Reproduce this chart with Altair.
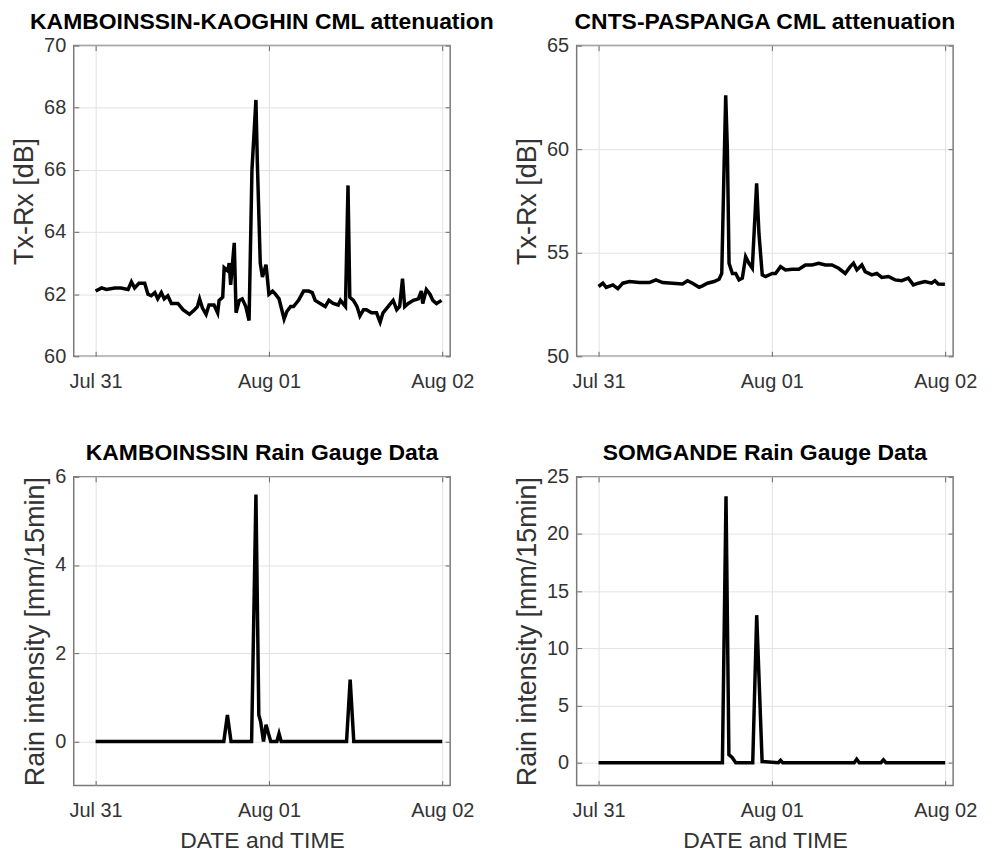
import altair as alt
import pandas as pd

# time axis: hours after Jul 31 00:00
x_tick_hours = [0, 24, 48]
x_tick_labels = ["Jul 31", "Aug 01", "Aug 02"]

# KAMBOINSSIN-KAOGHIN CML attenuation (dB)
kk_hours = [0, 0.83, 1.5, 2.66, 3.5, 4.5, 4.96, 5.4, 6.0, 6.8, 7.25, 7.7, 8.2, 8.6, 9.1, 9.5,
            10.0, 10.5, 11.4, 12.1, 13.0, 13.7, 14.1, 14.4, 14.8, 15.3, 15.7, 16.4, 16.9, 17.1,
            17.6, 17.8, 18.3, 18.5, 18.7, 19.2, 19.45, 19.9, 20.3, 20.8, 21.25, 21.65, 22.2,
            22.4, 22.8, 23.1, 23.6, 24.0, 24.5, 24.9, 25.4, 26.1, 26.5, 27.0, 27.4, 28.1, 28.8,
            29.5, 30.0, 30.4, 31.1, 31.8, 32.3, 32.9, 33.6, 33.9, 34.6, 34.95, 35.2, 35.7, 36.2,
            36.6, 37.1, 37.5, 38.2, 38.9, 39.4, 39.8, 40.5, 41.2, 41.7, 42.1, 42.5, 42.8, 43.3,
            44.0, 44.7, 45.1, 45.3, 45.8, 46.3, 46.7, 47.2, 47.9]
kk_db = [62.1, 62.2, 62.15, 62.2, 62.2, 62.15, 62.4, 62.2, 62.35, 62.35, 62.0, 61.95, 62.05,
         61.85, 62.05, 61.85, 61.95, 61.7, 61.7, 61.5, 61.35, 61.5, 61.6, 61.85, 61.55, 61.35,
         61.65, 61.65, 61.4, 61.8, 61.9, 62.85, 62.75, 63.0, 62.3, 63.65, 61.4, 61.8, 61.85,
         61.6, 61.15, 66.0, 68.25, 66.2, 63.0, 62.55, 62.95, 62.0, 62.1, 62.0, 61.85, 61.2,
         61.45, 61.6, 61.6, 61.8, 62.1, 62.1, 62.05, 61.8, 61.7, 61.6, 61.8, 61.7, 61.65, 61.8,
         61.6, 65.5, 61.9, 61.8, 61.6, 61.3, 61.5, 61.5, 61.4, 61.4, 61.1, 61.4, 61.6, 61.8,
         61.5, 61.6, 62.5, 61.6, 61.7, 61.8, 61.85, 62.1, 61.7, 62.15, 62.0, 61.8, 61.7, 61.8]

# CNTS-PASPANGA CML attenuation (dB)
cp_hours = [0, 0.6, 1.06, 1.98, 2.67, 3.36, 4.28, 5.66, 7.03, 7.95, 8.87, 10.25, 11.63, 12.32,
            13.01, 13.93, 14.39, 15.08, 16.0, 16.69, 17.06, 17.38, 17.61, 17.84, 18.07, 18.53,
            18.99, 19.45, 19.91, 20.37, 20.83, 21.29, 21.89, 22.21, 22.67, 23.13, 24.05, 24.51,
            25.2, 25.89, 26.81, 27.73, 28.65, 29.57, 30.49, 31.4, 32.32, 33.24, 34.16, 34.85,
            35.31, 35.77, 36.46, 36.92, 37.84, 38.53, 39.22, 40.14, 41.06, 41.98, 42.9, 43.59,
            44.28, 45.2, 46.12, 46.58, 47.04, 47.96]
cp_db = [53.37, 53.53, 53.33, 53.45, 53.27, 53.53, 53.61, 53.56, 53.56, 53.69, 53.56, 53.53,
         53.49, 53.65, 53.53, 53.33, 53.4, 53.53, 53.61, 53.72, 54.0, 59.13, 62.6, 59.94, 54.49,
         54.0, 54.0, 53.69, 53.77, 54.81, 54.49, 54.25, 58.35, 55.93, 53.93, 53.85, 54.0, 54.0,
         54.33, 54.17, 54.2, 54.2, 54.41, 54.41, 54.49, 54.41, 54.41, 54.25, 54.0, 54.33, 54.49,
         54.17, 54.41, 54.09, 53.93, 54.0, 53.81, 53.85, 53.69, 53.65, 53.77, 53.45, 53.53,
         53.61, 53.53, 53.65, 53.49, 53.48]

# KAMBOINSSIN rain gauge (mm/15min)
kr_hours = [0, 17.75, 18.25, 18.75, 21.6, 22.2, 22.6, 22.85, 23.25, 23.6, 23.9, 24.25, 25.1,
            25.4, 25.7, 34.75, 35.25, 35.75, 48]
kr_rain = [0, 0, 0.6, 0, 0, 5.6, 0.6, 0.45, 0, 0.38, 0.2, 0, 0, 0.18, 0, 0, 1.4, 0, 0]

# SOMGANDE rain gauge (mm/15min)
sr_hours = [0, 17.15, 17.65, 18.05, 18.5, 19.0, 21.35, 21.9, 22.65, 24.9, 25.2, 25.5, 35.4,
            35.75, 36.1, 39.1, 39.45, 39.8, 48]
sr_rain = [0, 0, 23.3, 0.7, 0.45, 0, 0, 12.9, 0.1, 0, 0.2, 0, 0, 0.3, 0, 0, 0.25, 0, 0]

FONT = "Liberation Sans"
X_DOMAIN = [-3.03, 49.1]
label_expr = " : ".join(
    f"datum.value == {h} ? '{l}'" for h, l in zip(x_tick_hours[:-1], x_tick_labels[:-1])
) + f" : '{x_tick_labels[-1]}'"


def tick_axis(orient, values):
    # tick-only axis pulled inside the frame (MATLAB style inward ticks)
    return alt.Axis(orient=orient, values=values, offset=-5, ticks=True, tickSize=5,
                    tickColor="#666666", tickWidth=1, labels=False, domain=False,
                    grid=False, title=None)


def panel(hours, vals, title, ytitle, ydomain, yticks, xtitle, height):
    df = pd.DataFrame({"h": hours, "v": vals})
    xs = alt.Scale(domain=X_DOMAIN, nice=False, zero=False)
    ys = alt.Scale(domain=ydomain, nice=False, zero=False)
    main = alt.Chart(df).mark_line(color="black", strokeWidth=3.5, clip=True).encode(
        x=alt.X("h:Q", scale=xs,
                axis=alt.Axis(orient="bottom", values=x_tick_hours, labelExpr=label_expr,
                              title=xtitle, titleFontSize=23)),
        y=alt.Y("v:Q", scale=ys,
                axis=alt.Axis(orient="left", values=yticks, title=ytitle, titleFontSize=27)),
    )
    ticks_tr = alt.Chart(df).mark_line(opacity=0).encode(
        x=alt.X("h:Q", scale=xs, axis=tick_axis("top", x_tick_hours)),
        y=alt.Y("v:Q", scale=ys, axis=tick_axis("right", yticks)),
    )
    ticks_bl = alt.Chart(df).mark_line(opacity=0).encode(
        x=alt.X("h:Q", scale=xs, axis=tick_axis("bottom", x_tick_hours)),
        y=alt.Y("v:Q", scale=ys, axis=tick_axis("left", yticks)),
    )
    return (
        alt.layer(main, ticks_tr, ticks_bl)
        .resolve_axis(x="independent", y="independent")
        .properties(width=378, height=height, title=title)
    )


p1 = panel(kk_hours, kk_db, "KAMBOINSSIN-KAOGHIN CML attenuation", "Tx-Rx [dB]",
           [60, 70], [60, 62, 64, 66, 68, 70], None, 312)
p2 = panel(cp_hours, cp_db, "CNTS-PASPANGA CML attenuation", "Tx-Rx [dB]",
           [50, 65], [50, 55, 60, 65], None, 312)
p3 = panel(kr_hours, kr_rain, "KAMBOINSSIN Rain Gauge Data", "Rain intensity [mm/15min]",
           [-1, 6], [0, 2, 4, 6], "DATE and TIME", 310)
p4 = panel(sr_hours, sr_rain, "SOMGANDE Rain Gauge Data", "Rain intensity [mm/15min]",
           [-2, 25], [0, 5, 10, 15, 20, 25], "DATE and TIME", 310)

chart = (
    alt.concat(p1, p2, p3, p4, columns=2, spacing={"row": 121, "column": 127}, bounds="flush")
    .configure_view(stroke="#7a7a7a", strokeWidth=1.5)
    .configure_axis(
        domain=False, ticks=False, grid=True, gridColor="#e2e2e2", gridWidth=1,
        labelFont=FONT, labelFontSize=20, labelColor="#333333",
        titleFont=FONT, titleFontWeight="normal", titleColor="#333333",
    )
    .configure_axisX(labelPadding=15, titlePadding=9)
    .configure_axisY(labelPadding=8, titlePadding=5)
    .configure_title(font=FONT, fontSize=23, fontWeight="bold", color="black",
                     anchor="middle", baseline="alphabetic", offset=1.5)
    .properties(padding={"left": 2, "top": 0, "right": 5, "bottom": 0})
)

chart.save("out.html", embed_options={"renderer": "svg", "actions": False})
